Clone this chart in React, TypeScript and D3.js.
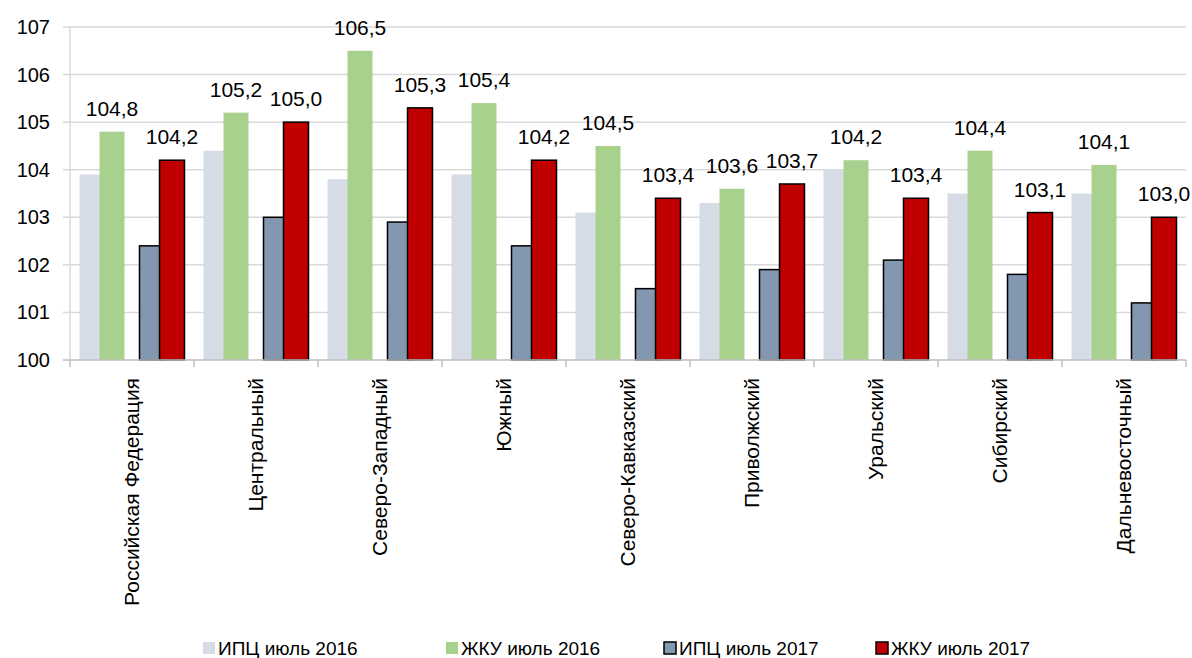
import React from "react";
import * as d3 from "d3";

const categories = ["Российская Федерация","Центральный","Северо-Западный","Южный","Северо-Кавказский","Приволжский","Уральский","Сибирский","Дальневосточный"];
const cpi2016 = [103.9,104.4,103.8,103.9,103.1,103.3,104.0,103.5,103.5];
const hcs2016 = [104.8,105.2,106.5,105.4,104.5,103.6,104.2,104.4,104.1];
const cpi2017 = [102.4,103.0,102.9,102.4,101.5,101.9,102.1,101.8,101.2];
const hcs2017 = [104.2,105.0,105.3,104.2,103.4,103.7,103.4,103.1,103.0];
const yTicks = [100,101,102,103,104,105,106,107];

const series = [
  { name: "ИПЦ июль 2016", values: cpi2016, color: "#d6dce5", stroke: false, slot: 0, label: false },
  { name: "ЖКУ июль 2016", values: hcs2016, color: "#a9d18e", stroke: false, slot: 1, label: true },
  { name: "ИПЦ июль 2017", values: cpi2017, color: "#8497b0", stroke: true, slot: 3, label: false },
  { name: "ЖКУ июль 2017", values: hcs2017, color: "#c00000", stroke: true, slot: 4, label: true },
];

export default function App() {
  const W = 1192, H = 658;
  const left = 70, right = 1186, top = 27, bottom = 360;
  const x = d3.scaleBand<string>().domain(categories).range([left, right]).padding(0);
  const y = d3.scaleLinear().domain([100, 107]).range([bottom, top]);
  const bw = 25, step = 20;
  const font = "'Liberation Sans', Arial, sans-serif";
  const fmt = (v: number) => v.toFixed(1).replace(".", ",");
  const legendX = [203, 446, 664, 876];
  return (
    <svg width={W} height={H} style={{ position: "absolute", left: 0, top: 0, background: "#fff" }}>
      {yTicks.map(t => (
        <g key={t}>
          {t > 100 && <line x1={63} x2={right} y1={y(t)} y2={y(t)} stroke="#d9d9d9" strokeWidth={1.5} />}
          {t === 100 && <line x1={63} x2={left} y1={y(t)} y2={y(t)} stroke="#bfbfbf" strokeWidth={1.5} />}
          <text x={50} y={y(t) + 7} textAnchor="end" fontFamily={font} fontSize={20} fill="#000">{t}</text>
        </g>
      ))}
      <line x1={left} x2={left} y1={top} y2={bottom} stroke="#d9d9d9" strokeWidth={1.5} />
      {series.map(s => (
        <g key={s.name}>
          {categories.map((c, i) => {
            const cx = (x(c) as number) + x.bandwidth() / 2;
            const x0 = cx - 52.5 + s.slot * step;
            return (
              <rect key={c} x={x0} y={y(s.values[i])} width={bw} height={bottom - y(s.values[i])}
                fill={s.color} stroke={s.stroke ? "#000" : "none"} strokeWidth={s.stroke ? 1.5 : 0} />
            );
          })}
        </g>
      ))}
      <line x1={left} x2={right} y1={bottom} y2={bottom} stroke="#bfbfbf" strokeWidth={1.5} />
      {categories.map((c, i) => (
        <line key={"t" + i} x1={(x(c) as number)} x2={(x(c) as number)} y1={bottom} y2={bottom + 7} stroke="#bfbfbf" strokeWidth={1.5} />
      ))}
      <line x1={right} x2={right} y1={bottom} y2={bottom + 7} stroke="#bfbfbf" strokeWidth={1.5} />
      {series.filter(s => s.label).map(s => (
        <g key={"l" + s.name}>
          {categories.map((c, i) => {
            const cx = (x(c) as number) + x.bandwidth() / 2;
            const bx = cx - 52.5 + s.slot * step + bw / 2;
            return (
              <text key={c} x={bx} y={y(s.values[i]) - 16} textAnchor="middle" fontFamily={font} fontSize={21} fill="#000">{fmt(s.values[i])}</text>
            );
          })}
        </g>
      ))}
      {categories.map(c => {
        const cx = (x(c) as number) + x.bandwidth() / 2;
        return (
          <text key={"c" + c} transform={`translate(${cx + 7},${378}) rotate(-90)`} textAnchor="end"
            fontFamily={font} fontSize={21} fill="#000">{c}</text>
        );
      })}
      {series.map((s, i) => (
        <g key={"lg" + i} transform={`translate(${legendX[i]},${642})`}>
          <rect x={0} y={0} width={12} height={12} fill={s.color} stroke={s.stroke ? "#000" : "none"} strokeWidth={s.stroke ? 1.5 : 0} />
          <text x={15} y={13} fontFamily={font} fontSize={19} fill="#000">{s.name}</text>
        </g>
      ))}
    </svg>
  );
}
